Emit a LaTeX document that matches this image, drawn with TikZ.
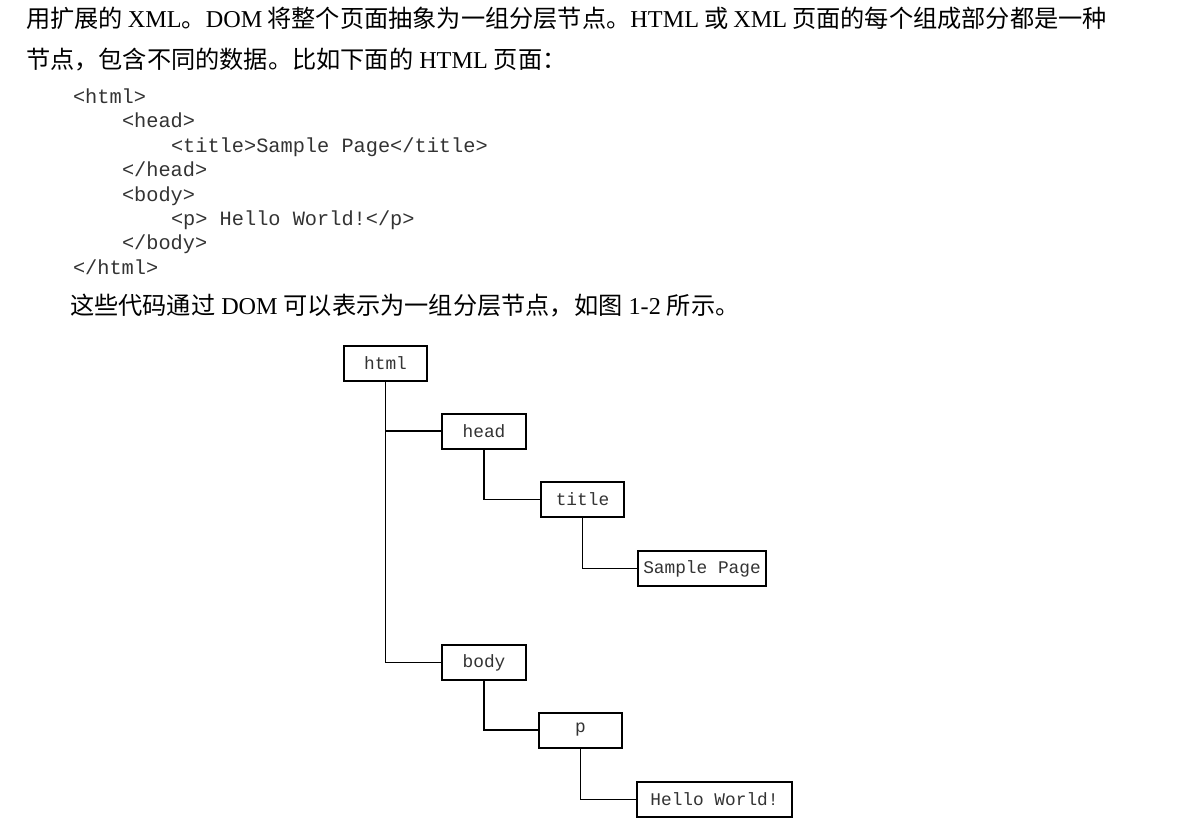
\documentclass[tikz,border=0pt]{standalone}
\usepackage{fontspec}
\setmainfont{Liberation Serif}
\newfontfamily\cjk{Noto Sans CJK SC}
\newfontfamily\codefont{Liberation Mono}
\newcommand{\zh}[1]{{\cjk #1}}
\begin{document}
\begin{tikzpicture}[x=1pt,y=-1pt,
  prose/.style={anchor=base west,inner sep=0pt,outer sep=0pt,font=\fontsize{24.2}{28}\selectfont},
  code/.style={anchor=base west,inner sep=0pt,outer sep=0pt,font=\codefont\fontsize{20.3}{24}\selectfont,text=black!80},
  dombox/.style={draw=black,line width=2pt,inner sep=0pt,outer sep=0pt,minimum height=35pt,font=\codefont\fontsize{17.8}{20}\selectfont,text=black!80},
  link/.style={draw=black,line width=1.8pt}]
\useasboundingbox (0,0) rectangle (1194,831);
\fill[white] (0,0) rectangle (1194,831);
% prose
\node[prose] (l1) at (26,27.5) {\makebox[1081pt][s]{\zh{用扩展的} XML\zh{。}DOM \zh{将整个页面抽象为一组分层节点。}HTML \zh{或} XML \zh{页面的每个组成部分都是一种}}};
\node[prose] (l2) at (26,68.5) {\zh{节点，包含不同的数据。比如下面的} HTML \zh{页面：}};
\node[prose] (l3) at (70,314.5) {\zh{这些代码通过} DOM \zh{可以表示为一组分层节点，如图} 1-2 \zh{所示。}};
% code
\node[code] (c1) at (73,103.5) {<html>};
\node[code] (c2) at (122,127.9) {<head>};
\node[code] (c3) at (171,152.3) {<title>Sample Page</title>};
\node[code] (c4) at (122,176.7) {</head>};
\node[code] (c5) at (122,201.1) {<body>};
\node[code] (c6) at (171,225.5) {<p> Hello World!</p>};
\node[code] (c7) at (122,249.9) {</body>};
\node[code] (c8) at (73,274.3) {</html>};
% tree
\node[dombox,minimum width=83pt] (html) at (385.5,363) {html};
\node[dombox,minimum width=84pt] (head) at (484,431) {head};
\node[dombox,minimum width=83pt] (title) at (582.5,499.5) {title};
\node[dombox,minimum width=128pt] (sample) at (702,568.5) {Sample Page};
\node[dombox,minimum width=84pt] (body) at (484,662.5) {body};
\node[dombox,minimum width=83pt] (p) at (580.5,730) {p};
\node[dombox,minimum width=155pt] (hello) at (714.5,799.5) {Hello World!};
\draw[link] (html.south) |- (head.west);
\draw[link] (html.south) |- (body.west);
\draw[link] (head.south) |- (title.west);
\draw[link] (title.south) |- (sample.west);
\draw[link] (body.south) |- (p.west);
\draw[link] (p.south) |- (hello.west);
\end{tikzpicture}
\end{document}
